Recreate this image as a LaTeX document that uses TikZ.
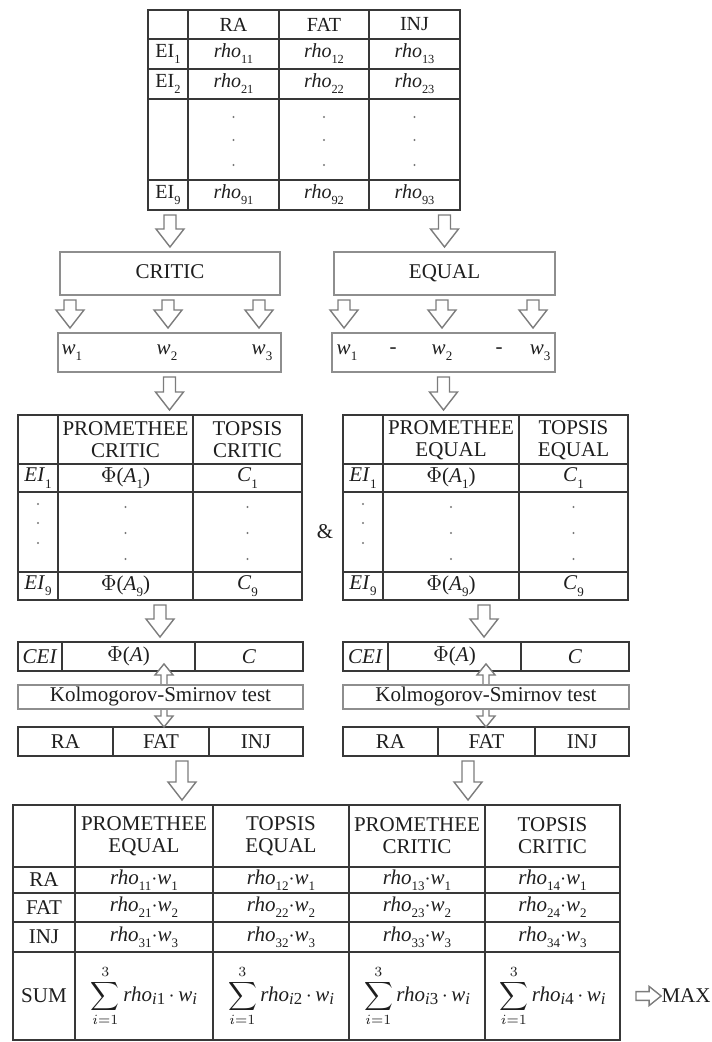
\documentclass[tikz,border=0pt]{standalone}
\usepackage{fontspec}
\usepackage{graphicx}
\setmainfont{Liberation Serif}
\usetikzlibrary{calc}

\definecolor{ink}{HTML}{1E1E1E}
\definecolor{rule}{HTML}{383838}
\definecolor{boxgray}{HTML}{8E8E8E}
\definecolor{arrowgray}{HTML}{7C7C7C}

\newcommand{\lsub}[1]{\raisebox{-0.65ex}{\scalebox{0.62}{#1}}}
\newcommand{\rhot}[1]{\textit{rho}\lsub{#1}}
\newcommand{\wt}[1]{\textit{w}\lsub{#1}}
\newcommand{\sumcell}[1]{$\displaystyle\sum_{i=1}^{3}$\,\textit{rho}\raisebox{-0.3ex}{\scalebox{0.8}{\textit{i}#1}}\,$\cdot$\,\textit{w}\raisebox{-0.3ex}{\scalebox{0.8}{\textit{i}}}}

% hollow block arrow: shaft half width, head half width, head length, gap, from, to
\newcommand{\fatarrow}[6]{%
  \path ($(#5)!#4!(#6)$) coordinate (fa-s) ($(#6)!#4!(#5)$) coordinate (fa-t);
  \path ($(fa-t)!#3!(fa-s)$) coordinate (fa-h);
  \draw[fatline] ($(fa-s)!#1!90:(fa-t)$) -- ($(fa-h)!#1!90:(fa-t)$)
    -- ($(fa-h)!#2!90:(fa-t)$) -- (fa-t) -- ($(fa-h)!#2!-90:(fa-t)$)
    -- ($(fa-h)!#1!-90:(fa-t)$) -- ($(fa-s)!#1!-90:(fa-t)$) -- cycle;}
\newcommand{\bigarrow}[2]{\fatarrow{3pt}{7pt}{9pt}{2.5pt}{#1}{#2}}

\begin{document}
\begin{tikzpicture}[
  x=0.5pt,
  y=-0.5pt,
  cell/.style={font=\fontsize{10.5}{11}\selectfont,text=ink,inner sep=0pt,align=center},
  smallcell/.style={cell,font=\fontsize{10}{10.5}\selectfont},
  tableframe/.style={draw=rule,line width=0.9pt,inner sep=0pt,outer sep=0pt,anchor=north west},
  tline/.style={rule,line width=0.75pt},
  graybox/.style={draw=boxgray,line width=0.7pt,fill=white,inner sep=0pt,outer sep=0pt,
    font=\fontsize{10.5}{11}\selectfont,text=ink,text height=7.2pt,text depth=2.3pt},
  fatline/.style={draw=arrowgray,fill=white,line width=0.7pt}
]
\useasboundingbox (0,0) rectangle (711,1042);

% Correlation table
\node[tableframe,minimum width=156pt,minimum height=100pt] (topT) at (148,10) {};
\foreach \x in {188,279,369} \draw[tline] (\x,10) -- (\x,210);
\foreach \y in {39,69,99,180} \draw[tline] (148,\y) -- (460,\y);
\node[smallcell] (tRA) at (233.5,24.5) {RA};
\node[smallcell] (tFAT) at (324,24.5) {FAT};
\node[smallcell] (tINJ) at (414.5,24.5) {INJ};
\foreach \r/\y in {1/54,2/84,9/195}{
  \node[smallcell] (tEI\r) at (168,\y) {EI\lsub{\r}};
  \node[smallcell] (trho\r1) at (233.5,\y) {\rhot{\r1}};
  \node[smallcell] (trho\r2) at (324,\y) {\rhot{\r2}};
  \node[smallcell] (trho\r3) at (414.5,\y) {\rhot{\r3}};
}
\foreach \x in {233.5,324,414.5}
  \foreach \y in {117,140,165} \fill[ink!60] (\x,\y) circle (0.6pt);

% Weighting methods
\node[graybox,minimum width=110pt,minimum height=21.5pt] (critic) at (170,273.5) {CRITIC};
\node[graybox,minimum width=110.5pt,minimum height=21.5pt] (equal) at (444.5,273.5) {EQUAL};
\bigarrow{topT.south -| critic.center}{critic.north}
\bigarrow{topT.south -| equal.center}{equal.north}

\node[graybox,minimum width=111.5pt,minimum height=19.5pt] (wL) at (169.5,352.5) {};
\node[graybox,minimum width=111.5pt,minimum height=19.5pt] (wR) at (443.5,352.5) {};
\foreach \x in {70,168,259} {\bigarrow{critic.south -| \x,0}{wL.north -| \x,0}}
\foreach \x in {344,442,533} {\bigarrow{equal.south -| \x,0}{wR.north -| \x,0}}
\foreach \n/\x in {1/72,2/167,3/262} \node[cell] (wL\n) at (\x,353) {\wt{\n}};
\foreach \n/\x in {1/347,2/442,3/540} \node[cell] (wR\n) at (\x,353) {\wt{\n}};
\node[cell] (dash1) at (393,351) {-};
\node[cell] (dash2) at (499,351) {-};

% Ranking tables
\node[tableframe,minimum width=142pt,minimum height=92.5pt] (midL) at (18,415) {};
\node[tableframe,minimum width=142.5pt,minimum height=92.5pt] (midR) at (343,415) {};
\bigarrow{wL.south}{midL.north -| wL.south}
\bigarrow{wR.south}{midR.north -| wR.south}
\foreach \a/\b/\c/\d in {18/58/193/302,343/383/519/628}{
  \draw[tline] (\b,415) -- (\b,600) (\c,415) -- (\c,600);
  \draw[tline] (\a,464) -- (\d,464) (\a,572) -- (\d,572);
  \draw[rule,line width=1.1pt] (\a,492) -- (\d,492);
}
\foreach \k/\e/\p/\t/\m in {L/38/125.5/247.5/CRITIC,R/363/451/573.5/EQUAL}{
  \node[cell] (ph\k) at (\p,440) {PROMETHEE\\\m};
  \node[cell] (th\k) at (\t,440) {TOPSIS\\\m};
  \node[cell] (eione\k) at (\e,478) {\textit{EI}\lsub{1}};
  \node[cell] (phione\k) at (\p,478) {$\Phi$(\textit{A}\lsub{1})};
  \node[cell] (cone\k) at (\t,478) {\textit{C}\lsub{1}};
  \node[cell] (einine\k) at (\e,586) {\textit{EI}\lsub{9}};
  \node[cell] (phinine\k) at (\p,586) {$\Phi$(\textit{A}\lsub{9})};
  \node[cell] (cnine\k) at (\t,586) {\textit{C}\lsub{9}};
  \foreach \y in {504,523,543} \fill[ink!60] (\e,\y) circle (0.6pt);
  \foreach \y in {507,533,559} {
    \fill[ink!60] (\p,\y) circle (0.6pt);
    \fill[ink!60] (\t,\y) circle (0.6pt);
  }
}
\node[cell] (amp) at (325,532) {\&};

% Aggregated index rows
\node[tableframe,minimum width=142.5pt,minimum height=14.5pt] (ceiL) at (18,642) {};
\node[tableframe,minimum width=143pt,minimum height=14.5pt] (ceiR) at (343,642) {};
\draw[tline] (62,642) -- (62,671) (195,642) -- (195,671);
\draw[tline] (388,642) -- (388,671) (521,642) -- (521,671);
\bigarrow{midL.south -| 160,0}{ceiL.north -| 160,0}
\bigarrow{midR.south -| 484,0}{ceiR.north -| 484,0}
\foreach \k/\a/\b/\c in {L/40/128.5/249,R/365.5/454.5/575}{
  \node[cell] (cei\k) at (\a,656.5) {\textit{CEI}};
  \node[cell] (phia\k) at (\b,656.5) {$\Phi$(\textit{A})};
  \node[cell] (ca\k) at (\c,656.5) {\textit{C}};
}

% Kolmogorov-Smirnov test
\node[tableframe,minimum width=142.5pt,minimum height=14.5pt] (rowL) at (18,727) {};
\node[tableframe,minimum width=143pt,minimum height=14.5pt] (rowR) at (343,727) {};
\draw[tline] (113,727) -- (113,756) (209,727) -- (209,756);
\draw[tline] (438,727) -- (438,756) (535,727) -- (535,756);
\foreach \k/\a/\b/\c in {L/65.5/161/256,R/390.5/486.5/582}{
  \node[cell] (ra\k) at (\a,741.5) {RA};
  \node[cell] (fat\k) at (\b,741.5) {FAT};
  \node[cell] (inj\k) at (\c,741.5) {INJ};
}
\coordinate (ksLc) at (164,697);
\coordinate (ksRc) at (486,697);
\fatarrow{1.5pt}{4.5pt}{5.5pt}{0pt}{ksLc}{ceiL.south -| ksLc}
\fatarrow{1.5pt}{4.5pt}{5.5pt}{0pt}{ksLc}{rowL.north -| ksLc}
\fatarrow{1.5pt}{4.5pt}{5.5pt}{0pt}{ksRc}{ceiR.south -| ksRc}
\fatarrow{1.5pt}{4.5pt}{5.5pt}{0pt}{ksRc}{rowR.north -| ksRc}
\node[graybox,minimum width=142.5pt,minimum height=12pt] (ksL) at (160.5,697) {Kolmogorov-Smirnov test};
\node[graybox,minimum width=143pt,minimum height=12pt] (ksR) at (486,697) {Kolmogorov-Smirnov test};

% Final comparison table
\node[tableframe,minimum width=303.5pt,minimum height=117.5pt] (botT) at (13,805) {};
\bigarrow{rowL.south -| 182,0}{botT.north -| 182,0}
\bigarrow{rowR.south -| 468,0}{botT.north -| 468,0}
\foreach \x in {75,213,349,485} \draw[tline] (\x,805) -- (\x,1040);
\foreach \y in {867,893,952} \draw[tline] (13,\y) -- (620,\y);
\draw[rule,line width=1.1pt] (13,922) -- (620,922);
\node[cell] (bh1) at (144,836) {PROMETHEE\\EQUAL};
\node[cell] (bh2) at (281,836) {TOPSIS\\EQUAL};
\node[cell] (bh3) at (417,836) {PROMETHEE\\CRITIC};
\node[cell] (bh4) at (552.5,836) {TOPSIS\\CRITIC};
\node[cell] (bRA) at (44,880) {RA};
\node[cell] (bFAT) at (44,907.5) {FAT};
\node[cell] (bINJ) at (44,937) {INJ};
\node[cell] (bSUM) at (44,996) {SUM};
\foreach \r/\y in {1/880,2/907.5,3/937}
  \foreach \c/\x in {1/144,2/281,3/417,4/552.5}
    \node[cell] (p\r\c) at (\x,\y) {\rhot{\r\c}$\cdot$\wt{\r}};
\foreach \c/\x in {1/144,2/281,3/417,4/552.5}
  \node[cell] (s\c) at (\x,996) {\sumcell{\c}};

\node[cell] (maxT) at (686,996) {MAX};
\path (botT.east |- maxT) ++(8pt,0) coordinate (maxS);
\fatarrow{2.2pt}{4.8pt}{6pt}{0pt}{maxS}{maxT.west}

\end{tikzpicture}
\end{document}
